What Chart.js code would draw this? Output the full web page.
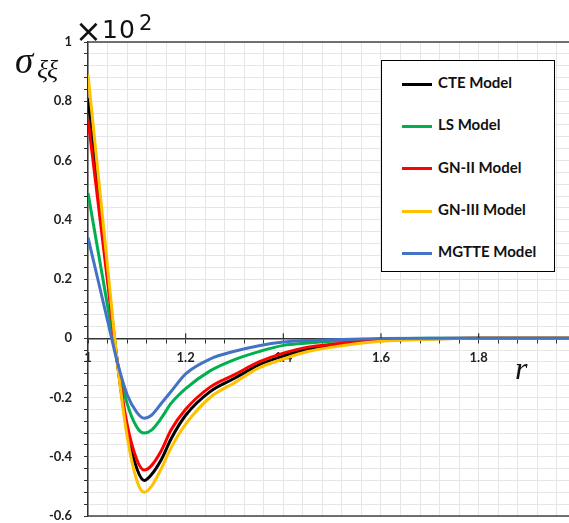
<!DOCTYPE html>
<html>
<head>
<meta charset="utf-8">
<script src="https://cdn.jsdelivr.net/npm/chart.js@4"></script>
<style>
  body { margin: 0; background: #fff; }
  #wrap { position: relative; width: 569px; height: 523px; }
  .lbl { position: absolute; white-space: nowrap; color: #111; line-height: 1; }
  #legend {
    position: absolute; left: 381px; top: 60px; width: 172px; height: 210px;
    border: 1.5px solid #000; background: #fff;
    font: bold 15px Lato, sans-serif; color: #111;
  }
  .item { position: absolute; left: 20px; height: 20px; line-height: 20px; }
  .item span { display: inline-block; width: 30px; height: 3px; vertical-align: middle; margin-right: 6px; }
</style>
</head>
<body>
<div id="wrap">
  <canvas id="chart" width="569" height="523"></canvas>
  <div class="lbl" style="left:75px; top:12px; font: 32px 'DejaVu Sans', sans-serif;">×</div>
  <div class="lbl" style="left:102px; top:15px; font: 25px 'DejaVu Sans', sans-serif; letter-spacing: 1px;">10</div>
  <div class="lbl" style="left:139px; top:11px; font: 21px 'DejaVu Sans', sans-serif;">2</div>
  <div class="lbl" style="left:15px; top:39px; font: italic 37px 'Liberation Serif', serif;">σ</div>
  <div class="lbl" style="left:37px; top:55px; font: italic 26px 'Liberation Serif', serif;">ξξ</div>
  <div class="lbl" style="left:515px; top:350px; font: italic 32px 'Liberation Serif', serif;">r</div>
  <div id="legend"></div>
</div>
<script>
// r positions and stress values
const rValues = [1, 1.02, 1.04, 1.06, 1.08, 1.1, 1.115, 1.13, 1.15, 1.17, 1.2, 1.25, 1.3, 1.35, 1.4, 1.45, 1.5, 1.6, 1.7, 1.8, 1.9, 2.0];

const cteModel   = [0.81, 0.51, 0.21, -0.08, -0.31, -0.44, -0.48, -0.46, -0.41, -0.34, -0.26, -0.18, -0.135, -0.09, -0.06, -0.037, -0.025, -0.008, -0.002, 0, 0, 0];
const lsModel    = [0.49, 0.30, 0.11, -0.08, -0.22, -0.30, -0.32, -0.31, -0.27, -0.22, -0.17, -0.11, -0.072, -0.045, -0.024, -0.016, -0.01, -0.003, 0, 0, 0, 0];
const gn2Model   = [0.74, 0.467, 0.193, -0.08, -0.29, -0.41, -0.445, -0.43, -0.38, -0.31, -0.24, -0.165, -0.123, -0.08, -0.05, -0.03, -0.02, -0.006, -0.001, 0, 0, 0];
const gn3Model   = [0.89, 0.567, 0.243, -0.08, -0.33, -0.48, -0.52, -0.50, -0.44, -0.37, -0.29, -0.20, -0.15, -0.10, -0.07, -0.045, -0.03, -0.01, -0.003, 0, 0, 0];
const mgtteModel = [0.34, 0.20, 0.06, -0.08, -0.19, -0.25, -0.27, -0.26, -0.22, -0.18, -0.12, -0.07, -0.044, -0.025, -0.013, -0.008, -0.005, -0.001, 0, 0, 0, 0];

const seriesNames  = ['CTE Model', 'LS Model', 'GN-II Model', 'GN-III Model', 'MGTTE Model'];
const seriesData   = [cteModel, lsModel, gn2Model, gn3Model, mgtteModel];
const seriesColors = ['#000000', '#00b050', '#ff0000', '#ffc000', '#4472c4'];

const xMajorTicks = [1, 1.2, 1.4, 1.6, 1.8];
const yTickLabels = [-0.6, -0.4, -0.2, 0, 0.2, 0.4, 0.6, 0.8, 1];

// build the legend box
const legend = document.getElementById('legend');
seriesNames.forEach((name, i) => {
    const item = document.createElement('div');
    item.className = 'item';
    item.style.top = (11 + i * 42.3) + 'px';
    item.innerHTML = `<span style="background:${seriesColors[i]}"></span>${name}`;
    legend.appendChild(item);
});

// frame lines and the upward major ticks on the r axis
const framePlugin = {
    id: 'frame',
    afterDraw(chart) {
        const { ctx, chartArea: a, scales: { x, y } } = chart;
        ctx.save();
        ctx.strokeStyle = '#444';
        ctx.lineWidth = 1.5;
        ctx.beginPath();
        ctx.moveTo(a.left, a.top); ctx.lineTo(a.right, a.top);
        ctx.moveTo(a.left, a.bottom); ctx.lineTo(a.right, a.bottom);
        ctx.stroke();
        const y0 = y.getPixelForValue(0);
        ctx.strokeStyle = '#333';
        ctx.lineWidth = 1.2;
        ctx.beginPath();
        xMajorTicks.slice(1).forEach(v => {
            const px = x.getPixelForValue(v);
            ctx.moveTo(px, y0); ctx.lineTo(px, y0 - 5);
        });
        ctx.stroke();
        ctx.restore();
    }
};

const tickFont = { family: 'Lato, sans-serif', size: 13, weight: 'bold' };

new Chart(document.getElementById('chart'), {
    type: 'line',
    data: {
        datasets: seriesNames.map((name, i) => ({
            label: name,
            data: rValues.map((r, k) => ({ x: r, y: seriesData[i][k] })),
            borderColor: seriesColors[i],
            backgroundColor: seriesColors[i],
            borderWidth: 3,
            pointRadius: 0,
            cubicInterpolationMode: 'monotone',
            order: seriesNames.length - i,
        })),
    },
    options: {
        responsive: false,
        animation: false,
        layout: { padding: { top: 42, bottom: 7, left: 0, right: 0 } },
        plugins: { legend: { display: false }, tooltip: { enabled: false } },
        scales: {
            x: {
                type: 'linear',
                position: { y: 0 },
                min: 1,
                max: 1.985,
                afterFit: (s) => { s.height = 0; s.paddingLeft = 0; s.paddingRight = 0; },
                afterBuildTicks: (s) => {
                    const t = [];
                    for (let i = 0; i <= 24; i++) t.push({ value: 1 + i * 0.04 });
                    s.ticks = t;
                },
                grid: { color: '#e6e6e6', tickColor: '#333', tickLength: 4 },
                border: { color: '#333', width: 1.5 },
                ticks: {
                    autoSkip: false,
                    maxRotation: 0,
                    padding: 8,
                    color: '#222',
                    font: tickFont,
                    callback: (v) => xMajorTicks.some(m => Math.abs(m - v) < 1e-6) ? String(Math.round(v * 10) / 10) : '',
                },
            },
            y: {
                min: -0.6,
                max: 1,
                afterFit: (s) => { s.width = 88; s.paddingTop = 0; s.paddingBottom = 0; },
                afterBuildTicks: (s) => {
                    const t = [];
                    for (let i = 0; i <= 40; i++) t.push({ value: -0.6 + i * 0.04 });
                    s.ticks = t;
                },
                grid: { color: '#e6e6e6', tickColor: '#333', tickLength: 4 },
                border: { color: '#333', width: 1.5 },
                ticks: {
                    autoSkip: false,
                    padding: 12,
                    color: '#222',
                    font: tickFont,
                    callback: (v) => yTickLabels.some(m => Math.abs(m - v) < 1e-6) ? String(Math.round(v * 10) / 10) : '',
                },
            },
        },
    },
    plugins: [framePlugin],
});
</script>
</body>
</html>
